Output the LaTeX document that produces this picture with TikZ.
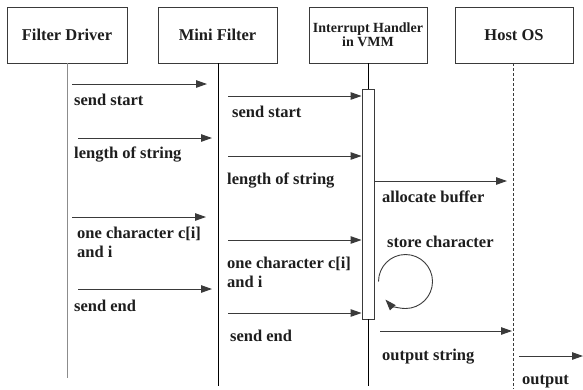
\documentclass[tikz,border=0pt]{standalone}
\usepackage{fontspec}
\setmainfont{Liberation Serif}
\usetikzlibrary{arrows.meta}
\definecolor{ink}{HTML}{1E1E1E}
\definecolor{linec}{HTML}{3A3A3A}
\definecolor{lifeg}{HTML}{8C8C8C}
\begin{document}
\begin{tikzpicture}[x=1pt,y=-1pt,
  actor/.style={draw=linec, line width=0.9pt, minimum height=56pt, inner sep=0pt, text=ink,
    font=\bfseries\fontsize{16.5}{19}\selectfont, align=center},
  life/.style={draw=linec, line width=0.9pt},
  msg/.style={draw=linec, line width=1pt, -{Triangle[length=11pt,width=7.5pt]}},
  lbl/.style={anchor=base west, inner sep=0pt, text=ink, font=\bfseries\fontsize{16.5}{19}\selectfont}
]
\useasboundingbox (0,0) rectangle (583,389);
\fill[white] (0,0) rectangle (583,389);

% actors
\node[actor, minimum width=120pt] (fd) at (67,35) {Filter Driver};
\node[actor, minimum width=119pt] (mf) at (217.5,35) {Mini Filter};
\node[actor, minimum width=118pt, font=\bfseries\fontsize{14}{14}\selectfont] (ih) at (368,35) {Interrupt Handler\\in VMM};
\node[actor, minimum width=118pt] (ho) at (514,35) {Host OS};

% lifeline ends
\coordinate (fdend) at (67,378);
\coordinate (mfend) at (218,386);
\coordinate (ihend) at (368,386);
\coordinate (hoend) at (513,389);

% activation
\node[draw=linec, fill=white, line width=0.9pt, minimum width=12pt, minimum height=230pt, inner sep=0pt] (act) at (368,204) {};

\draw[life, draw=lifeg] (fd.south -| fdend) -- (fdend);
\draw[life, draw=black] (mf.south -| mfend) -- (mfend);
\draw[life, draw=black] (ih.south) -- (act.north);
\draw[life, draw=black] (act.south) -- (ihend);
\draw[life, dashed, dash pattern=on 3pt off 2pt] (ho.south -| hoend) -- (hoend);

% messages Filter Driver -> Mini Filter
\coordinate (a1s) at (72,84);   \coordinate (a1e) at (207,84);
\coordinate (a3s) at (78,138);  \coordinate (a3e) at (212,138);
\coordinate (a6s) at (72,217);  \coordinate (a6e) at (206,217);
\coordinate (a9s) at (78,289);  \coordinate (a9e) at (212,289);
\draw[msg] (a1s) -- (a1e);
\draw[msg] (a3s) -- (a3e);
\draw[msg] (a6s) -- (a6e);
\draw[msg] (a9s) -- (a9e);

% messages Mini Filter -> Interrupt Handler
\coordinate (b1) at (228,96);
\coordinate (b2) at (228,156);
\coordinate (b3) at (228,240);
\coordinate (b4) at (228,313);
\draw[msg] (b1) -- (b1 -| act.west);
\draw[msg] (b2) -- (b2 -| act.west);
\draw[msg] (b3) -- (b3 -| act.west);
\draw[msg] (b4) -- (b4 -| act.west);

% Interrupt Handler -> Host OS
\coordinate (c1) at (374,181);  \coordinate (c1e) at (507,181);
\coordinate (c2) at (380,331);  \coordinate (c2e) at (512,331);
\draw[msg] (c1 -| act.east) -- (c1e);
\draw[msg] (c2) -- (c2e);

% Host OS -> output
\coordinate (d1) at (519,356);  \coordinate (d1e) at (583,356);
\draw[msg] (d1) -- (d1e);

% self loop
\coordinate (loopstart) at (378.5,281.5);
\draw[msg, line width=0.9pt] (loopstart) arc[start angle=180, end angle=498, radius=27];

% labels
\node[lbl] (l1) at (74,105) {send start};
\node[lbl] (l2) at (232,117) {send start};
\node[lbl] (l3) at (74,158) {length of string};
\node[lbl] (l4) at (227,184) {length of string};
\node[lbl] (l5) at (382,202) {allocate buffer};
\node[lbl] (l6) at (77,238) {\begin{tabular}[t]{@{}l@{}}one character c[i]\\and i\end{tabular}};
\node[lbl] (l7) at (227,268) {\begin{tabular}[t]{@{}l@{}}one character c[i]\\and i\end{tabular}};
\node[lbl] (l8) at (387,247) {store character};
\node[lbl] (l9) at (74,311) {send end};
\node[lbl] (l10) at (230,341) {send end};
\node[lbl] (l11) at (382,360) {output string};
\node[lbl] (l12) at (522,384) {output};
\end{tikzpicture}
\end{document}
